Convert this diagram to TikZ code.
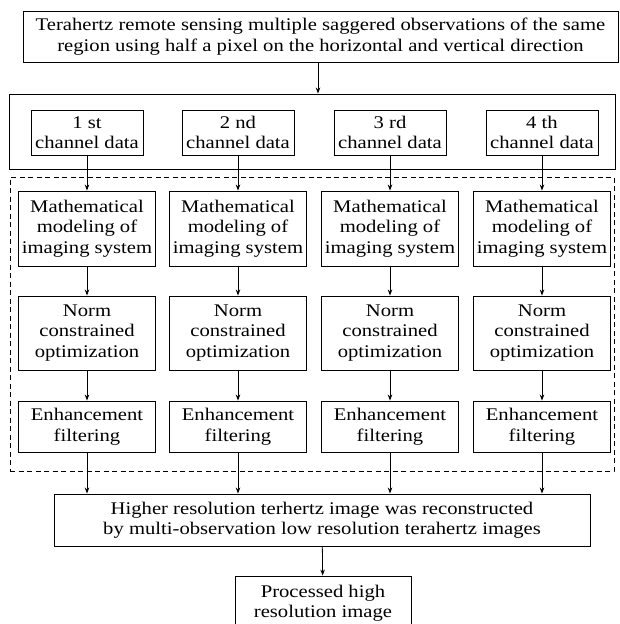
\documentclass[tikz,border=0pt]{standalone}
\usepackage{fontspec}
\setmainfont{Liberation Serif}[FakeStretch=1.16]
\usetikzlibrary{arrows.meta}

\tikzset{
  blk/.style={draw, line width=0.9pt, align=center, inner sep=0pt,
    font=\fontsize{17.8}{20.5}\selectfont},
  flow/.style={-{Stealth[length=6pt,width=4.5pt]}, line width=0.8pt},
}

\begin{document}
\begin{tikzpicture}[x=1pt, y=-1pt]
      \clip (0,0) rectangle (619,624);
      \useasboundingbox (0,0) rectangle (619,624);

      % input and channel split
      \node[blk, minimum width=595pt, minimum height=51pt] (obs) at (320.5,36.5)
        {Terahertz remote sensing multiple saggered observations of the same\\
         region using half a pixel on the horizontal and vertical direction};
      \node[blk, minimum width=606pt, minimum height=75pt] (chans) at (312,131.5) {};
      \draw[flow] ([xshift=-2.5pt]obs.south) -- ([xshift=-2.5pt]obs.south |- chans.north);

      % per channel processing
      \node[draw, dashed, dash pattern=on 5pt off 3.5pt, line width=0.8pt,
        minimum width=604pt, minimum height=294pt, inner sep=0pt] (proc) at (312,324) {};

      \node[blk, minimum width=536pt, minimum height=52pt] (recon) at (322,520)
        {Higher resolution terhertz image was reconstructed\\
         by multi-observation low resolution terahertz images};

      \foreach \i/\x/\s in {1/87/st, 2/238/nd, 3/390/rd, 4/542/th} {
        \node[blk, minimum width=112pt, minimum height=45pt] (ch\i) at (\x,132.5)
          {\i\ \s\\channel data};
        \node[blk, minimum width=137pt, minimum height=75pt] (model\i) at (\x,228.5)
          {Mathematical\\modeling of\\imaging system};
        \node[blk, minimum width=137pt, minimum height=74pt] (norm\i) at (\x,333)
          {Norm\\constrained\\optimization};
        \node[blk, minimum width=137pt, minimum height=51pt] (enh\i) at (\x,426.5)
          {Enhancement\\filtering};
        \draw[flow] (ch\i) -- (model\i);
        \draw[flow] (model\i) -- (norm\i);
        \draw[flow] (norm\i) -- (enh\i);
        \draw[flow] (enh\i) -- (enh\i.south |- recon.north);
      }

      % output
      \node[blk, minimum width=176pt, minimum height=54pt] (result) at (323,603)
        {Processed high\\resolution image};
      \draw[flow] (recon) -- (result);
\end{tikzpicture}
\end{document}
